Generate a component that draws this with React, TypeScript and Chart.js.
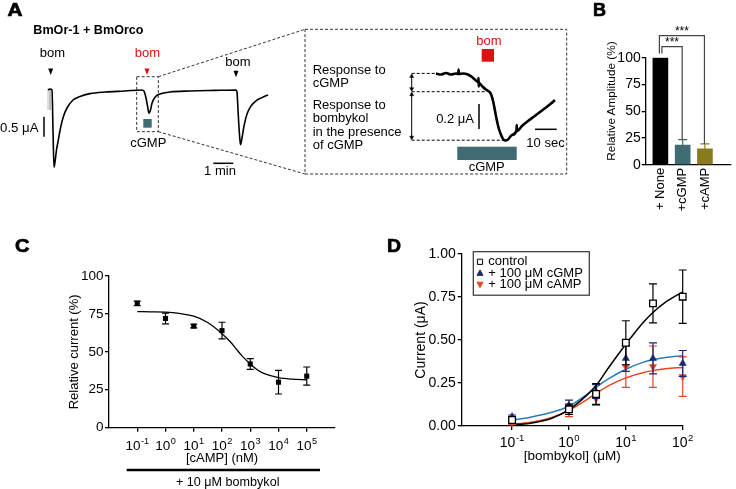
import React, { useEffect, useRef } from 'react';
import { Chart, registerables } from 'chart.js';

Chart.register(...registerables);

const FONT = "'Liberation Sans', Arial, Helvetica, 'DejaVu Sans', sans-serif";
Chart.defaults.font.family = FONT;
Chart.defaults.color = '#000';

// ---------------- Panel A : recordings ----------------
const traceTimeS = [0, 6, 12, 15, 18, 21, 25.5, 31, 37.5, 46, 57, 75, 96, 126, 171, 231, 282, 288, 294, 298.5, 303, 307.5, 312, 321, 336, 366, 426, 500, 564, 567, 570, 574.5, 577.5, 582, 588, 597, 609, 624, 642, 660];
const traceCurrentUA = [0, 0.025, 0, -1.0, -1.93, -1.8, -1.5, -1.25, -0.95, -0.67, -0.45, -0.25, -0.16, -0.09, -0.05, -0.025, 0, -0.03, -0.2, -0.4, -0.58, -0.5, -0.33, -0.18, -0.1, -0.05, -0.025, -0.01, 0, -0.05, -0.5, -1.12, -1.37, -1.2, -0.9, -0.6, -0.4, -0.27, -0.19, -0.125];
const artifactTimeS = [0, 0, 6, 6];
const artifactCurrentUA = [-0.5, 0.03, 0.03, -0.5];
const insetTimeS = [0, 2.3, 4.6, 6.9, 9.2, 10.3, 10.4, 10.5, 12.4, 14.7, 16.6, 18.4, 19.5, 19.6, 19.7, 19.8, 21.2, 23.0, 24.4, 25.3, 26.3, 27.2, 28.1, 29.0, 30.0, 30.9, 31.8, 33.2, 35.0, 37.1, 37.2, 37.3, 39.6, 42.4, 45.2, 47.9, 50.7, 53.0, 54.8];
const insetCurrentUA = [0, -0.008, 0.004, -0.008, 0, -0.004, 0.032, -0.004, 0, -0.008, -0.028, -0.056, -0.068, -0.036, -0.104, -0.076, -0.1, -0.128, -0.144, -0.164, -0.22, -0.3, -0.38, -0.444, -0.492, -0.524, -0.536, -0.528, -0.492, -0.456, -0.412, -0.46, -0.42, -0.38, -0.344, -0.308, -0.272, -0.24, -0.212];

// ---------------- Panel B ----------------
const bCategories = ['+ None', '+cGMP', '+cAMP'];
const bAmplitude = [100, 18.5, 14.8];
const bSem = [0, 5, 4.8];
const bColors = ['#000000', '#3E6C70', '#877B1E'];
const bYTicks = [0, 25, 50, 75, 100];
const bYTickLabels = ['0', '25', '50', '75', '100'];
const bSignificance = ['***', '***'];

// ---------------- Panel C ----------------
const cConcNM = [0.1, 1, 10, 100, 1000, 10000, 100000];
const cMean = [82, 72, 67, 64, 42, 30, 34];
const cSem = [1.5, 3.5, 1.2, 5.5, 3.5, 7.8, 6];
const cFitConc = [0.1, 0.3, 1, 3, 10, 30, 100, 200, 300, 500, 1000, 2000, 3000, 10000, 30000, 100000];
const cFitValue = [76.5, 76.4, 76.2, 75.4, 73.5, 69.5, 62, 56.5, 52.5, 47.5, 42, 37.5, 35.8, 33, 32, 31.6];
const cXTicks = [0.1, 1, 10, 100, 1000, 10000, 100000];
const cXTickExponents = ['-1', '0', '1', '2', '3', '4', '5'];
const cYTicks = [0, 25, 50, 75, 100];
const cYTickLabels = ['0', '25', '50', '75', '100'];

// ---------------- Panel D ----------------
const dConcUM = [0.1, 1, 3, 10, 30, 100];
const dControl = [0.035, 0.097, 0.186, 0.484, 0.713, 0.752];
const dControlSem = [0.015, 0.03, 0.06, 0.128, 0.113, 0.155];
const dCgmp = [0.054, 0.12, 0.2, 0.393, 0.393, 0.364];
const dCgmpSem = [0.01, 0.03, 0.04, 0.075, 0.09, 0.075];
const dCamp = [0.02, 0.085, 0.16, 0.345, 0.345, 0.287];
const dCampSem = [0.01, 0.03, 0.04, 0.12, 0.12, 0.115];
const dFitConc = [0.1, 0.2, 0.5, 1, 2, 3, 5, 10, 20, 30, 50, 100];
const dControlFit = [0.008, 0.015, 0.045, 0.095, 0.175, 0.235, 0.34, 0.475, 0.6, 0.66, 0.72, 0.78];
const dCgmpFit = [0.035, 0.05, 0.08, 0.115, 0.18, 0.225, 0.275, 0.33, 0.37, 0.385, 0.398, 0.408];
const dCampFit = [0.01, 0.02, 0.05, 0.09, 0.15, 0.19, 0.235, 0.28, 0.31, 0.322, 0.333, 0.34];
const dSeriesLabels = ['control', '+ 100 μM cGMP', '+ 100 μM cAMP'];
const dXTicks = [0.1, 1, 10, 100];
const dXTickExponents = ['-1', '0', '1', '2'];
const dYTicks = [0, 0.25, 0.5, 0.75, 1];
const dYTickLabels = ['0.00', '0.25', '0.50', '0.75', '1.00'];

const NAVY = '#1B2A6B';
const BLUE = '#2C7BB8';
const RED = '#E4461E';
const TEAL = '#3E6C70';
const BOMRED = '#DD1111';

const pts = (xs: number[], ys: number[]) => xs.map((x, i) => ({ x, y: ys[i] }));

const baseOptions = {
  responsive: false,
  animation: false,
  devicePixelRatio: 1,
  events: [],
  plugins: { legend: { display: false }, tooltip: { enabled: false }, title: { display: false } },
};

function axis(fontSize: number, padding: number, tickLength = 4) {
  return {
    grid: { display: true, drawOnChartArea: false, drawTicks: true, tickLength, color: '#000', lineWidth: 1.3 },
    border: { display: true, color: '#000', width: 1.3 },
    ticks: { color: '#000', font: { size: fontSize, family: FONT }, padding, autoSkip: false, maxRotation: 0, minRotation: 0 },
  };
}

const errorBarPlugin = {
  id: 'errorBarsLocal',
  beforeDatasetDraw(chart: any, args: any) {
    const ds = chart.data.datasets[args.index];
    const errs = ds.errorBars;
    if (!errs) return;
    const meta = args.meta;
    const yScale = chart.scales[meta.yAxisID];
    const ctx = chart.ctx;
    ctx.save();
    ctx.lineWidth = ds.errorLineWidth ?? 1.2;
    meta.data.forEach((el: any, i: number) => {
      const e = errs[i];
      if (!e) return;
      const v = ds.data[i].y;
      const x = el.x;
      const yHi = yScale.getPixelForValue(v + e);
      const yLo = yScale.getPixelForValue(ds.errorUpOnly ? v : v - e);
      const cap = ds.errorCap ?? 3.5;
      ctx.strokeStyle = Array.isArray(ds.errorColor) ? ds.errorColor[i] : ds.errorColor;
      ctx.beginPath();
      ctx.moveTo(x, yHi);
      ctx.lineTo(x, yLo);
      ctx.moveTo(x - cap, yHi);
      ctx.lineTo(x + cap, yHi);
      if (!ds.errorUpOnly) {
        ctx.moveTo(x - cap, yLo);
        ctx.lineTo(x + cap, yLo);
      }
      ctx.stroke();
    });
    ctx.restore();
  },
};

// draws "10" with a raised exponent under each tick of the x scale
function powerLabelPlugin(ticks: number[], exponents: string[], baseSize: number, baselineOffset: number) {
  return {
    id: 'powerLabels',
    afterDraw(chart: any) {
      const xs = chart.scales.x;
      const ctx = chart.ctx;
      ctx.save();
      ctx.fillStyle = '#000';
      ctx.textBaseline = 'alphabetic';
      ctx.textAlign = 'left';
      const supSize = baseSize * 0.68;
      ticks.forEach((v, i) => {
        const x = xs.getPixelForValue(v);
        ctx.font = `${baseSize}px ${FONT}`;
        const wBase = ctx.measureText('10').width;
        ctx.font = `${supSize}px ${FONT}`;
        const exp = exponents[i];
        const wSup = ctx.measureText(exp).width;
        const total = wBase + wSup + 0.5;
        const x0 = x - total / 2;
        const y = xs.top + baselineOffset;
        ctx.font = `${baseSize}px ${FONT}`;
        ctx.fillText('10', x0, y);
        ctx.font = `${supSize}px ${FONT}`;
        ctx.fillText(exp, x0 + wBase + 0.5, y - baseSize * 0.4);
      });
      ctx.restore();
    },
  };
}

function traceConfig(): any {
  return {
    type: 'scatter',
    data: {
      datasets: [
        { data: pts(traceTimeS, traceCurrentUA), showLine: true, pointRadius: 0, borderColor: '#000', borderWidth: 1.6, cubicInterpolationMode: 'monotone' },
        { data: pts(artifactTimeS, artifactCurrentUA), showLine: true, pointRadius: 0, borderColor: '#b0b0b0', borderWidth: 0.8 },
      ],
    },
    options: {
      ...baseOptions,
      layout: { padding: 0 },
      scales: {
        x: { type: 'linear', display: false, min: -30, max: 690 },
        y: { type: 'linear', display: false, min: -2.2, max: 0.3 },
      },
    },
  };
}

function insetConfig(): any {
  return {
    type: 'scatter',
    data: {
      datasets: [
        { data: pts(insetTimeS, insetCurrentUA), showLine: true, pointRadius: 0, borderColor: '#000', borderWidth: 2.6, cubicInterpolationMode: 'monotone' },
      ],
    },
    options: {
      ...baseOptions,
      layout: { padding: 0 },
      scales: {
        x: { type: 'linear', display: false, min: -2.765, max: 57.14 },
        y: { type: 'linear', display: false, min: -0.612, max: 0.108 },
      },
    },
  };
}

function bConfig(): any {
  const bracketPlugin = {
    id: 'brackets',
    afterDatasetsDraw(chart: any) {
      const xs = chart.scales.x;
      const ys = chart.scales.y;
      const ctx = chart.ctx;
      const pairs = [
        { from: 0, to: 1, level: 110.3, start: 104, dx: 1.5, label: bSignificance[0] },
        { from: 0, to: 2, level: 120.6, start: 104, dx: -1, label: bSignificance[1] },
      ];
      ctx.save();
      ctx.strokeStyle = '#444';
      ctx.lineWidth = 1.2;
      pairs.forEach((p) => {
        const x1 = xs.getPixelForValue(p.from + 1) + p.dx;
        const x2 = xs.getPixelForValue(p.to + 1) - 0.5;
        const yL = ys.getPixelForValue(p.level);
        const yS = ys.getPixelForValue(p.start);
        const yE = ys.getPixelForValue(bAmplitude[p.to] + bSem[p.to]);
        ctx.beginPath();
        ctx.moveTo(x1, yS);
        ctx.lineTo(x1, yL);
        ctx.lineTo(x2, yL);
        ctx.lineTo(x2, yE);
        ctx.stroke();
        ctx.fillStyle = '#000';
        ctx.font = `12px ${FONT}`;
        ctx.textAlign = 'center';
        ctx.textBaseline = 'alphabetic';
        ctx.fillText(p.label, (x1 + x2) / 2, yL - 1);
      });
      ctx.restore();
    },
  };
  const yAx: any = axis(14, 1, 4);
  const xAx: any = axis(13, 3, 0);
  return {
    type: 'bar',
    data: {
      datasets: [
        {
          data: bCategories.map((c, i) => ({ x: i + 1, y: bAmplitude[i] })),
          backgroundColor: bColors,
          borderWidth: 0,
          barThickness: 15,
          errorBars: bSem,
          errorUpOnly: true,
          errorColor: bColors,
          errorCap: 4.5,
        },
      ],
    },
    plugins: [errorBarPlugin, bracketPlugin],
    options: {
      ...baseOptions,
      layout: { padding: { left: 0, right: 5, top: 47.7, bottom: 0 } },
      scales: {
        x: {
          ...xAx,
          type: 'linear',
          min: 0.34,
          max: 4.17,
          offset: false,
          grid: { ...xAx.grid, drawTicks: false, offset: false },
          ticks: { ...xAx.ticks, minRotation: 90, maxRotation: 90, callback: (_v: any, i: number) => bCategories[i] },
          afterBuildTicks: (s: any) => { s.ticks = bCategories.map((_c, i) => ({ value: i + 1 })); },
          afterFit: (s: any) => { s.height = 60.2; },
        },
        y: {
          ...yAx,
          type: 'linear',
          min: 0,
          max: 100,
          ticks: { ...yAx.ticks, callback: (_v: any, i: number) => bYTickLabels[i] },
          afterBuildTicks: (s: any) => { s.ticks = bYTicks.map((v) => ({ value: v })); },
          afterFit: (s: any) => { s.width = 60.7; },
        },
      },
    },
  };
}

function cConfig(): any {
  const yAx: any = axis(13.5, 1.5, 4);
  const xAx: any = axis(13.5, 5, 4);
  return {
    type: 'scatter',
    data: {
      datasets: [
        {
          data: pts(cConcNM, cMean),
          pointStyle: 'rect',
          pointRadius: 3.6,
          backgroundColor: '#000',
          borderColor: '#000',
          borderWidth: 0,
          showLine: false,
          clip: false,
          errorBars: cSem,
          errorColor: '#000',
          errorCap: 3.5,
        },
        {
          data: pts(cFitConc, cFitValue),
          showLine: true,
          pointRadius: 0,
          borderColor: '#000',
          borderWidth: 1.3,
          cubicInterpolationMode: 'monotone',
          clip: false,
        },
      ],
    },
    plugins: [errorBarPlugin, powerLabelPlugin(cXTicks, cXTickExponents, 13.5, 22)],
    options: {
      ...baseOptions,
      layout: { padding: { left: 0, right: 15, top: 21, bottom: 0 } },
      scales: {
        x: {
          ...xAx,
          type: 'logarithmic',
          min: 0.01,
          max: 1000000,
          ticks: { ...xAx.ticks, display: false },
          afterBuildTicks: (s: any) => { s.ticks = cXTicks.map((v) => ({ value: v })); },
          afterFit: (s: any) => { s.height = 42.3; },
          title: { display: true, text: '[cAMP] (nM)', color: '#000', font: { size: 13, family: FONT }, padding: { top: 0, bottom: 4.2 } },
        },
        y: {
          ...yAx,
          type: 'linear',
          min: 0,
          max: 100,
          ticks: { ...yAx.ticks, callback: (_v: any, i: number) => cYTickLabels[i] },
          afterBuildTicks: (s: any) => { s.ticks = cYTicks.map((v) => ({ value: v })); },
          afterFit: (s: any) => { s.width = 69; },
          title: { display: true, text: 'Relative current (%)', color: '#000', font: { size: 13, family: FONT }, padding: { top: 26.4, bottom: 0 } },
        },
      },
    },
  };
}

function drawMarker(ctx: any, kind: string, x: number, y: number, r: number, fill: string, stroke: string) {
  ctx.beginPath();
  if (kind === 'rect') {
    ctx.rect(x - r, y - r, 2 * r, 2 * r);
  } else if (kind === 'up') {
    ctx.moveTo(x, y - r * 1.05);
    ctx.lineTo(x + r, y + r * 0.75);
    ctx.lineTo(x - r, y + r * 0.75);
    ctx.closePath();
  } else {
    ctx.moveTo(x, y + r * 1.05);
    ctx.lineTo(x + r, y - r * 0.75);
    ctx.lineTo(x - r, y - r * 0.75);
    ctx.closePath();
  }
  ctx.fillStyle = fill;
  ctx.fill();
  ctx.strokeStyle = stroke;
  ctx.lineWidth = 1;
  ctx.stroke();
}

function dConfig(): any {
  const legendPlugin = {
    id: 'dLegend',
    afterDraw(chart: any) {
      const { ctx, chartArea } = chart;
      const x0 = chartArea.left + 11.6;
      const y0 = chartArea.top - 2.3;
      const w = 116;
      const h = 43.5;
      ctx.save();
      ctx.fillStyle = '#fff';
      ctx.fillRect(x0, y0, w, h);
      ctx.strokeStyle = '#333';
      ctx.lineWidth = 1.2;
      ctx.strokeRect(x0, y0, w, h);
      const kinds = ['rect', 'up', 'down'];
      const fills = ['#fff', NAVY, RED];
      const strokes = ['#000', NAVY, RED];
      dSeriesLabels.forEach((label, i) => {
        const base = y0 + 13.6 + i * 11.3;
        drawMarker(ctx, kinds[i], x0 + 6.7, base - 3.5, i === 0 ? 2.6 : 3, fills[i], strokes[i]);
        ctx.fillStyle = '#000';
        ctx.font = `13px ${FONT}`;
        ctx.textAlign = 'left';
        ctx.textBaseline = 'alphabetic';
        ctx.fillText(label, x0 + 15, base);
      });
      ctx.restore();
    },
  };
  const yAx: any = axis(14, 2, 4);
  const xAx: any = axis(14, 3.3, 4);
  const marker = (data: number[], sem: number[], style: string, rot: number, fill: string, stroke: string, r: number, label: string) => ({
    label,
    data: pts(dConcUM, data),
    showLine: false,
    pointStyle: style,
    rotation: rot,
    pointRadius: r,
    backgroundColor: fill,
    borderColor: stroke,
    borderWidth: style === 'rect' ? 1.3 : 0.5,
    clip: false,
    errorBars: sem,
    errorColor: stroke,
    errorCap: 4,
  });
  const fit = (data: number[], color: string) => ({
    data: pts(dFitConc, data),
    showLine: true,
    pointRadius: 0,
    borderColor: color,
    borderWidth: 1.5,
    cubicInterpolationMode: 'monotone',
    clip: false,
  });
  return {
    type: 'scatter',
    data: {
      datasets: [
        marker(dControl, dControlSem, 'rect', 0, '#fff', '#000', 4.7, dSeriesLabels[0]),
        marker(dCgmp, dCgmpSem, 'triangle', 0, NAVY, NAVY, 4.2, dSeriesLabels[1]),
        marker(dCamp, dCampSem, 'triangle', 180, RED, RED, 4.2, dSeriesLabels[2]),
        fit(dControlFit, '#000'),
        fit(dCgmpFit, BLUE),
        fit(dCampFit, RED),
      ],
    },
    plugins: [errorBarPlugin, legendPlugin, powerLabelPlugin(dXTicks, dXTickExponents, 14, 20.6)],
    options: {
      ...baseOptions,
      layout: { padding: { left: 0, right: 27.3, top: 14, bottom: 0 } },
      scales: {
        x: {
          ...xAx,
          type: 'logarithmic',
          min: 0.013,
          max: 100,
          ticks: { ...xAx.ticks, display: false },
          afterBuildTicks: (s: any) => { s.ticks = dXTicks.map((v) => ({ value: v })); },
          afterFit: (s: any) => { s.height = 44; },
          title: { display: true, text: '[bombykol] (μM)', color: '#000', font: { size: 13.5, family: FONT }, padding: { top: 0, bottom: 5.2 } },
        },
        y: {
          ...yAx,
          type: 'linear',
          min: 0,
          max: 1,
          ticks: { ...yAx.ticks, callback: (_v: any, i: number) => dYTickLabels[i] },
          afterBuildTicks: (s: any) => { s.ticks = dYTicks.map((v) => ({ value: v })); },
          afterFit: (s: any) => { s.width = 71.7; },
          title: { display: true, text: 'Current (μA)', color: '#000', font: { size: 14, family: FONT }, padding: { top: 22.4, bottom: 0 } },
        },
      },
    },
  };
}

function ChartBox({ left, top, width, height, make }: { left: number; top: number; width: number; height: number; make: () => any }) {
  const ref = useRef<HTMLCanvasElement | null>(null);
  useEffect(() => {
    if (!ref.current) return;
    const chart = new Chart(ref.current, make());
    return () => chart.destroy();
  }, []);
  return <canvas ref={ref} width={width} height={height} style={{ position: 'absolute', left, top, width, height }} />;
}

function Txt(props: any) {
  const { children, size = 13, weight = 'normal', fill = '#000', ...rest } = props;
  return (
    <text fontFamily={FONT} fontSize={size} fontWeight={weight} fill={fill} {...rest}>
      {children}
    </text>
  );
}

function Arrow2({ x, y1, y2 }: { x: number; y1: number; y2: number }) {
  return (
    <g stroke="#000" strokeWidth={1} fill="#000">
      <line x1={x} y1={y1 + 1} x2={x} y2={y2 - 1} />
      <polygon points={`${x - 2},${y1 + 4} ${x + 2},${y1 + 4} ${x},${y1 + 0.5}`} strokeWidth={0.5} />
      <polygon points={`${x - 2},${y2 - 4} ${x + 2},${y2 - 4} ${x},${y2 - 0.5}`} strokeWidth={0.5} />
    </g>
  );
}

function Letter({ x, y, len, children }: { x: number; y: number; len: number; children: string }) {
  return (
    <Txt x={x} y={y} size={18} weight="bold" stroke="#000" strokeWidth={0.7} textLength={len} lengthAdjust="spacingAndGlyphs">
      {children}
    </Txt>
  );
}

function Overlay() {
  const dash = '3 2';
  return (
    <svg width={736} height={489} style={{ position: 'absolute', left: 0, top: 0, pointerEvents: 'none' }}>
      {/* panel letters */}
      <Letter x={7.5} y={15.5} len={15}>A</Letter>
      <Letter x={593} y={15.5} len={13}>B</Letter>
      <Letter x={15} y={251.7} len={14.5}>C</Letter>
      <Letter x={387} y={251.7} len={14}>D</Letter>

      {/* Panel B y-axis title */}
      <Txt x={0} y={0} size={11.8} textAnchor="middle" transform="translate(615,101) rotate(-90)">Relative Amplitude (%)</Txt>

      {/* Panel A main */}
      <Txt x={33.3} y={33.5} size={12.6} weight="bold">BmOr-1 + BmOrco</Txt>
      <Txt x={52.5} y={57.3} textAnchor="middle">bom</Txt>
      <Txt x={147.5} y={57.3} textAnchor="middle" fill={BOMRED}>bom</Txt>
      <Txt x={238} y={66} textAnchor="middle">bom</Txt>
      <polygon points="48.2,68.5 53.2,68.5 50.7,75" fill="#000" />
      <polygon points="144.5,68.5 149.5,68.5 147,75" fill={BOMRED} />
      <polygon points="233.5,70.7 238.5,70.7 236,77.3" fill="#000" />
      <Txt x={38.5} y={131.5} textAnchor="end" size={13.2}>0.5 μA</Txt>
      <line x1={44} y1={116.7} x2={44} y2={136.7} stroke="#000" strokeWidth={1.5} />
      <Txt x={220} y={175} textAnchor="middle">1 min</Txt>
      <line x1={213.3} y1={163.3} x2={233.3} y2={163.3} stroke="#000" strokeWidth={1.5} />
      <rect x={136.7} y={76.7} width={21.6} height={55} fill="none" stroke="#333" strokeWidth={1} strokeDasharray={dash} />
      <rect x={143.3} y={119} width={8.4} height={8.7} fill={TEAL} />
      <Txt x={148.3} y={146.7} textAnchor="middle">cGMP</Txt>
      <line x1={158.3} y1={76.7} x2={305} y2={29.3} stroke="#333" strokeWidth={1} strokeDasharray={dash} />
      <line x1={158.3} y1={131.7} x2={305} y2={174} stroke="#333" strokeWidth={1} strokeDasharray={dash} />

      {/* Panel A inset */}
      <rect x={305} y={29.3} width={261.7} height={144.7} fill="none" stroke="#333" strokeWidth={1} strokeDasharray={dash} />
      <Txt x={312.7} y={74}>Response to</Txt>
      <Txt x={312.7} y={86.7}>cGMP</Txt>
      <Txt x={312.7} y={109}>Response to</Txt>
      <Txt x={312.7} y={122.3}>bombykol</Txt>
      <Txt x={312.7} y={135.5}>in the presence</Txt>
      <Txt x={312.7} y={148.8}>of cGMP</Txt>
      <line x1={411.7} y1={73.4} x2={436} y2={73.4} stroke="#000" strokeWidth={1} strokeDasharray={dash} />
      <line x1={411.7} y1={91.7} x2={486} y2={91.7} stroke="#000" strokeWidth={1} strokeDasharray={dash} />
      <line x1={411.7} y1={140.2} x2={504} y2={140.2} stroke="#000" strokeWidth={1} strokeDasharray={dash} />
      <Arrow2 x={411.7} y1={73.4} y2={91.7} />
      <Arrow2 x={411.7} y1={91.7} y2={140.2} />
      <Txt x={489} y={45} textAnchor="middle" fill={BOMRED}>bom</Txt>
      <rect x={481.7} y={49} width={12.3} height={12.7} fill={BOMRED} />
      <Txt x={474} y={122.8} textAnchor="end">0.2 μA</Txt>
      <line x1={479} y1={104} x2={479} y2={129} stroke="#000" strokeWidth={1.5} />
      <Txt x={545.5} y={147.3} textAnchor="middle">10 sec</Txt>
      <line x1={535} y1={129.3} x2={556.7} y2={129.3} stroke="#000" strokeWidth={1.5} />
      <rect x={457.3} y={146.7} width={59.4} height={13.3} fill={TEAL} />
      <Txt x={486.7} y={170.7} textAnchor="middle">cGMP</Txt>

      {/* Panel C bottom annotation */}
      <line x1={126.7} y1={470} x2={320} y2={470} stroke="#000" strokeWidth={2.5} />
      <Txt x={227.7} y={486.2} textAnchor="middle" size={12.6}>+ 10 μM bombykol</Txt>
    </svg>
  );
}

export default function App() {
  return (
    <div style={{ position: 'fixed', left: 0, top: 0, width: 736, height: 489, background: '#fff', overflow: 'hidden' }}>
      <ChartBox left={38} top={78} width={240} height={100} make={traceConfig} />
      <ChartBox left={430} top={60} width={130} height={90} make={insetConfig} />
      <ChartBox left={585} top={10} width={151} height={215} make={bConfig} />
      <ChartBox left={40} top={255} width={310} height={215} make={cConfig} />
      <ChartBox left={390} top={240} width={320} height={230} make={dConfig} />
      <Overlay />
    </div>
  );
}
